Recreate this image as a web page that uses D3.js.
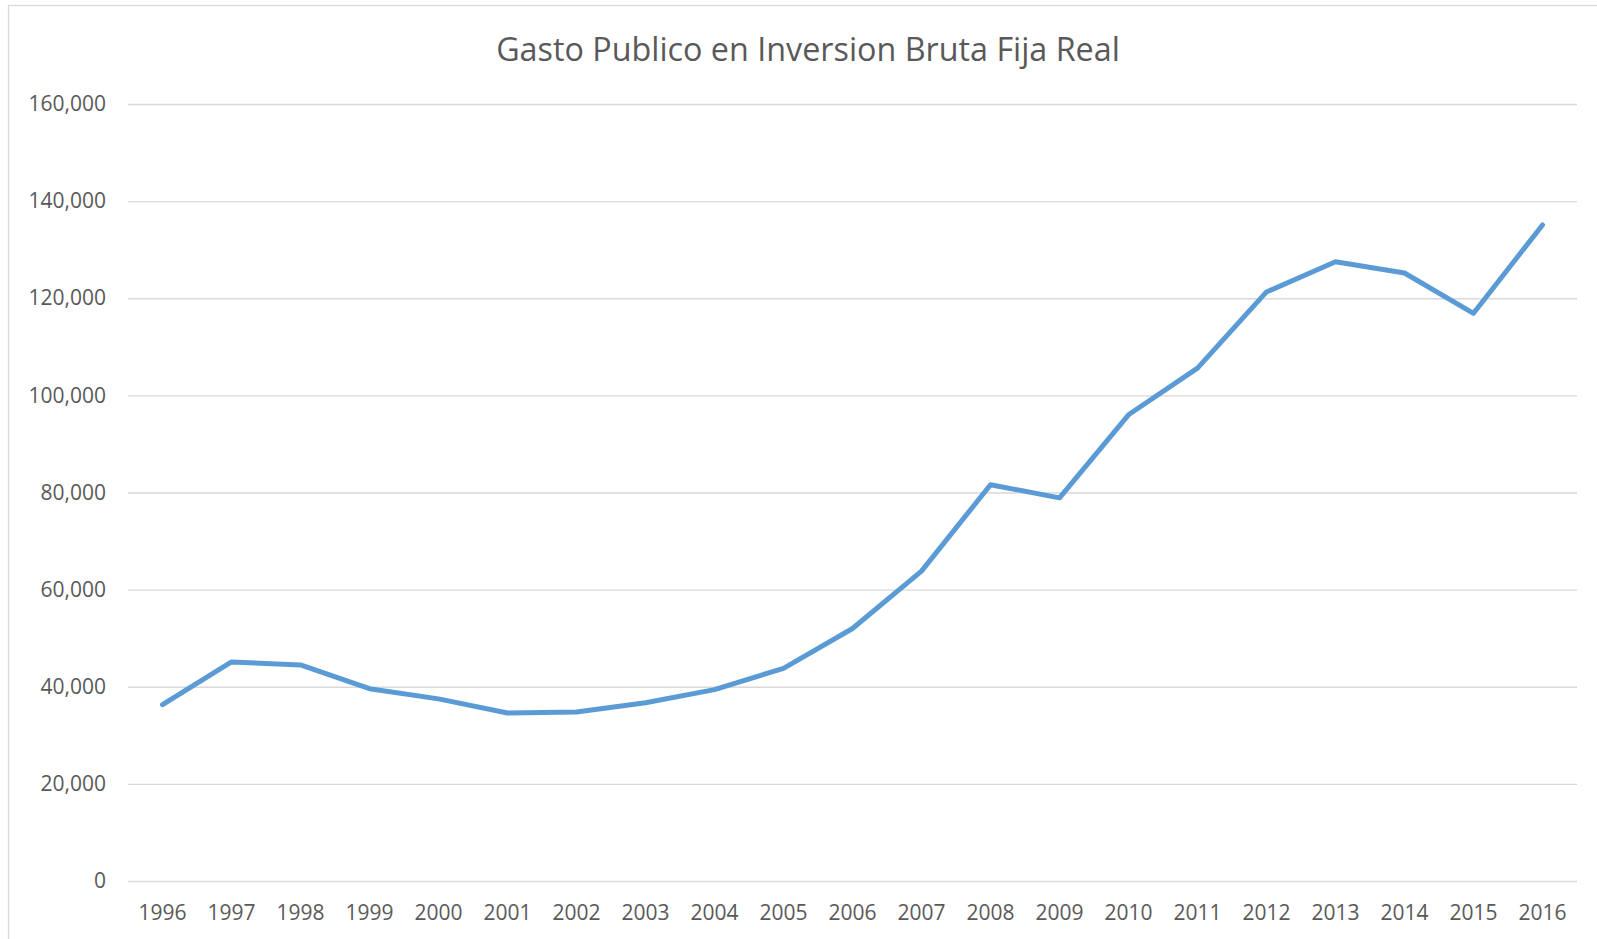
<!DOCTYPE html>
<html>
<head>
<meta charset="utf-8">
<script src="https://cdn.jsdelivr.net/npm/d3@7"></script>
<style>
  html, body { margin: 0; padding: 0; background: #fff; }
  svg { display: block; }
  text { font-family: "Open Sans", "Liberation Sans", sans-serif; fill: #595959; }
</style>
</head>
<body>
<svg id="chart" width="1597" height="939"></svg>
<script>
// Public gross fixed investment, real terms
const years = ["1996","1997","1998","1999","2000","2001","2002","2003","2004","2005","2006",
               "2007","2008","2009","2010","2011","2012","2013","2014","2015","2016"];
const gasto = [36300, 45100, 44500, 39600, 37500, 34600, 34800, 36700, 39400, 43800, 52000,
               63800, 81600, 78900, 96000, 105600, 121300, 127500, 125200, 116900, 135100];
const yTicks = [0, 20000, 40000, 60000, 80000, 100000, 120000, 140000, 160000];
const titleText = "Gasto Publico en Inversion Bruta Fija Real";

const svg = d3.select("#chart");
const plot = { left: 128, right: 1577, top: 104, bottom: 881 };

// chart frame (continues past the right and bottom edges)
svg.append("rect")
  .attr("x", 8.5).attr("y", 5.5)
  .attr("width", 1600).attr("height", 1000)
  .attr("fill", "#fff").attr("stroke", "#d9d9d9").attr("stroke-width", 1.3);

svg.append("text")
  .attr("x", 808).attr("y", 61)
  .attr("text-anchor", "middle")
  .style("font-size", "32.3px")
  .text(titleText);

const x = d3.scaleBand().domain(years).range([plot.left, plot.right]).padding(0);
const y = d3.scaleLinear().domain([0, 160000]).range([plot.bottom, plot.top]);

// horizontal gridlines + value labels
const yAxis = d3.axisLeft(y).tickValues(yTicks)
  .tickFormat(d3.format(",.0f"))
  .tickSize(-(plot.right - plot.left)).tickPadding(22);
const gy = svg.append("g").attr("transform", `translate(${plot.left},0)`).call(yAxis);
gy.select(".domain").remove();
gy.selectAll(".tick line").attr("stroke", "#d9d9d9").attr("stroke-width", 1.4);
gy.selectAll(".tick text").style("font-size", "21px").attr("fill", "#595959")
  .attr("font-family", null);

// category labels
const xAxis = d3.axisBottom(x).tickSize(0).tickPadding(24);
const gx = svg.append("g").attr("transform", `translate(0,${plot.bottom})`).call(xAxis);
gx.select(".domain").remove();
gx.selectAll(".tick text").style("font-size", "21px").attr("fill", "#595959")
  .attr("font-family", null);

// series line
const line = d3.line()
  .x((d, i) => x(years[i]) + x.bandwidth() / 2)
  .y(d => y(d));
svg.append("path")
  .datum(gasto)
  .attr("d", line)
  .attr("fill", "none")
  .attr("stroke", "#5b9bd5")
  .attr("stroke-width", 5)
  .attr("stroke-linejoin", "round")
  .attr("stroke-linecap", "round");
</script>
</body>
</html>
